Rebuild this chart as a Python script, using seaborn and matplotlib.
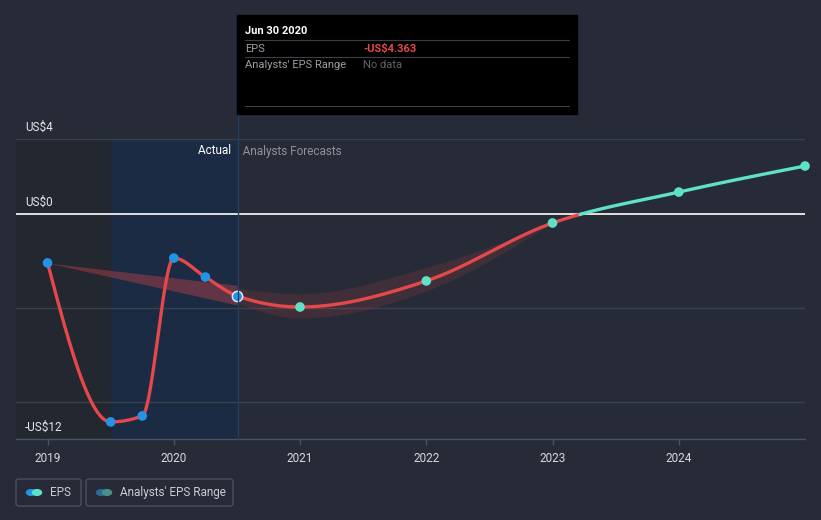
import numpy as np
import pandas as pd
import matplotlib
matplotlib.use("Agg")
import matplotlib.pyplot as plt
from matplotlib.patches import FancyBboxPatch, Rectangle, Circle
from matplotlib.lines import Line2D
import seaborn as sns

# ---------------- data ----------------
actual_x = [2019.0, 2019.5, 2019.75, 2020.0, 2020.25, 2020.5]
actual_eps = [-2.61, -11.09, -10.77, -2.35, -3.36, -4.363]
forecast_x = [2021.0, 2022.0, 2023.0, 2024.0, 2025.0]
forecast_eps = [-4.96, -3.57, -0.48, 1.17, 2.56]
past_range_x = [2019.0, 2020.5]
past_range_low = [-2.61, -4.85]
past_range_high = [-2.61, -3.80]
range_x = [2020.5, 2021.0, 2022.0, 2023.0]
range_low = [-4.75, -5.55, -4.10, -0.48]
range_high = [-3.95, -4.25, -2.85, -0.48]
year_ticks = [2019, 2020, 2021, 2022, 2023, 2024]
y_labels = {4: "US$4", 0: "US$0", -12: "-US$12"}

# ---------------- style ----------------
BG = "#262b37"
RED = "#e5484a"
TEAL = "#5fe1c8"
BLUE = "#2393e6"
W, H = 821, 520

sns.set_theme(style="dark")
plt.rcParams["font.family"] = ["Roboto", "DejaVu Sans"]


def monotone(x, y, n=60):
    x = np.asarray(x, float)
    y = np.asarray(y, float)
    h = np.diff(x)
    s = np.diff(y) / h
    m = np.zeros(len(x))
    for i in range(1, len(x) - 1):
        p = (s[i - 1] * h[i] + s[i] * h[i - 1]) / (h[i - 1] + h[i])
        m[i] = (np.sign(s[i - 1]) + np.sign(s[i])) * min(abs(s[i - 1]), abs(s[i]), 0.5 * abs(p))
    if len(x) > 2:
        m[0] = (3 * s[0] - m[1]) / 2
        m[-1] = (3 * s[-1] - m[-2]) / 2
    else:
        m[0] = m[-1] = s[0]
    xs, ys = [], []
    for i in range(len(x) - 1):
        t = np.linspace(0, 1, n, endpoint=(i == len(x) - 2))
        h00 = 2 * t**3 - 3 * t**2 + 1
        h10 = t**3 - 2 * t**2 + t
        h01 = -2 * t**3 + 3 * t**2
        h11 = t**3 - t**2
        xs.append(x[i] + t * h[i])
        ys.append(h00 * y[i] + h10 * h[i] * m[i] + h01 * y[i + 1] + h11 * h[i] * m[i + 1])
    return np.concatenate(xs), np.concatenate(ys)


fig = plt.figure(figsize=(W / 100, H / 100), dpi=100, facecolor=BG)
ax = fig.add_axes([16 / W, 1 - 439 / H, (805 - 16) / W, (439 - 139) / H])
ax.set_facecolor(BG)
ax.set_xlim(2018.75, 2025.0)
ax.set_ylim(-12, 4)


def fx(px):
    return px / W


def fy(py):
    return 1 - py / H


# shaded regions
ax.axvspan(2018.75, 2019.5, color="#23272f", zorder=0, lw=0)
ax.axvspan(2019.5, 2020.5, color="#1b2b43", zorder=0, lw=0)

# grid
for g in [4, -5, -10]:
    ax.axhline(g, color="#3a404d", lw=1, zorder=1)
ax.axhline(0, color="#ffffff", lw=1.2, zorder=2)

# ranges
ax.fill_between(past_range_x, past_range_low, past_range_high, color=RED, alpha=0.35, lw=0, zorder=3)
bx, bl = monotone(range_x, range_low)
_, bh = monotone(range_x, range_high)
ax.fill_between(bx, bl, bh, color=RED, alpha=0.14, lw=0, zorder=3)

# EPS curve
all_x = actual_x + forecast_x
all_y = actual_eps + forecast_eps
cx, cy = monotone(all_x, all_y)
cross = np.argmax(cy > 0)
neg = pd.DataFrame({"x": cx[: cross + 1], "y": cy[: cross + 1]})
pos = pd.DataFrame({"x": cx[cross - 1:], "y": cy[cross - 1:]})
sns.lineplot(data=neg, x="x", y="y", color=RED, lw=2.4, ax=ax, sort=False, zorder=4)
sns.lineplot(data=pos, x="x", y="y", color=TEAL, lw=2.4, ax=ax, sort=False, zorder=4)

act = pd.DataFrame({"x": actual_x, "y": actual_eps})
fc = pd.DataFrame({"x": forecast_x, "y": forecast_eps})
sns.scatterplot(data=act.iloc[:-1], x="x", y="y", color=BLUE, s=48, edgecolor="none", ax=ax, zorder=5)
sns.scatterplot(data=act.iloc[-1:], x="x", y="y", color=BLUE, s=55, edgecolor="#dce8f8", linewidth=1.1, ax=ax, zorder=6)
sns.scatterplot(data=fc, x="x", y="y", color=TEAL, s=48, edgecolor="none", ax=ax, zorder=5, clip_on=False)

# axes styling
for sp in ["top", "right", "left"]:
    ax.spines[sp].set_visible(False)
ax.spines["bottom"].set_color("#4c5260")
ax.spines["bottom"].set_linewidth(1)
ax.set_xticks(year_ticks)
ax.set_xticklabels([str(y) for y in year_ticks])
ax.tick_params(axis="x", colors="#4c5260", labelcolor="#d6d9de", length=4, width=1, labelsize=8.5, pad=5, bottom=True)
ax.set_yticks([])
ax.set_xlabel("")
ax.set_ylabel("")
ax.grid(False)
if ax.get_legend():
    ax.get_legend().remove()

for val, lab in y_labels.items():
    ax.annotate(lab, xy=(0, val), xycoords=("axes fraction", "data"), xytext=(9, 5),
                textcoords="offset pixels", ha="left", va="bottom", color="#e4e6ea", fontsize=8.5)

ax.text(2020.5, 3.36, "Actual  ", ha="right", va="center", color="#ffffff", fontsize=8.5, zorder=7)
ax.text(2020.5, 3.36, "  Analysts Forecasts", ha="left", va="center", color="#8d929b", fontsize=8.5, zorder=7)

# vertical marker line
fig.add_artist(Line2D([fx(237.5), fx(237.5)], [fy(114), fy(439)], color="#253f62", lw=1, zorder=3))

# tooltip
fig.add_artist(Rectangle((fx(237), fy(114)), fx(577) - fx(237), fy(15) - fy(114), color="#000000", zorder=8))
for yy in [40, 57, 106]:
    fig.add_artist(Line2D([fx(245), fx(569)], [fy(yy), fy(yy)], color="#3c3f45", lw=0.8, zorder=9))
fig.text(fx(245), fy(31), "Jun 30 2020", color="#ffffff", fontsize=8, fontweight="bold", va="center", zorder=10)
fig.text(fx(245), fy(48.5), "EPS", color="#9a9ea6", fontsize=8, va="center", zorder=10)
fig.text(fx(363), fy(48.5), "-US$4.363", color="#e5484a", fontsize=8, fontweight="bold", va="center", zorder=10)
fig.text(fx(245), fy(65.5), "Analysts' EPS Range", color="#9a9ea6", fontsize=8, va="center", zorder=10)
fig.text(fx(363), fy(65.5), "No data", color="#5f636b", fontsize=8, va="center", zorder=10)


# legend
def pill(x0, x1, c1, c2, label):
    fig.add_artist(FancyBboxPatch((fx(x0), fy(506)), fx(x1) - fx(x0), fy(479) - fy(506),
                                  boxstyle="round,pad=0,rounding_size=0.004", fc="none",
                                  ec="#4a505c", lw=1, zorder=5))
    r = 4.5
    for cxp, col in [(x0 + 15, c1), (x0 + 21, c2)]:
        fig.add_artist(Circle((fx(cxp), fy(492.5)), r / W, color=col, zorder=6,
                              transform=fig.transFigure))
    fig.text(fx(x0 + 34), fy(492.5), label, color="#c9ccd2", fontsize=8.5, va="center", zorder=6)


pill(16, 81, BLUE, TEAL, "EPS")
pill(86, 233, "#2c6898", "#4b8f88", "Analysts' EPS Range")

fig.savefig("out.png", dpi=100, facecolor=BG)
